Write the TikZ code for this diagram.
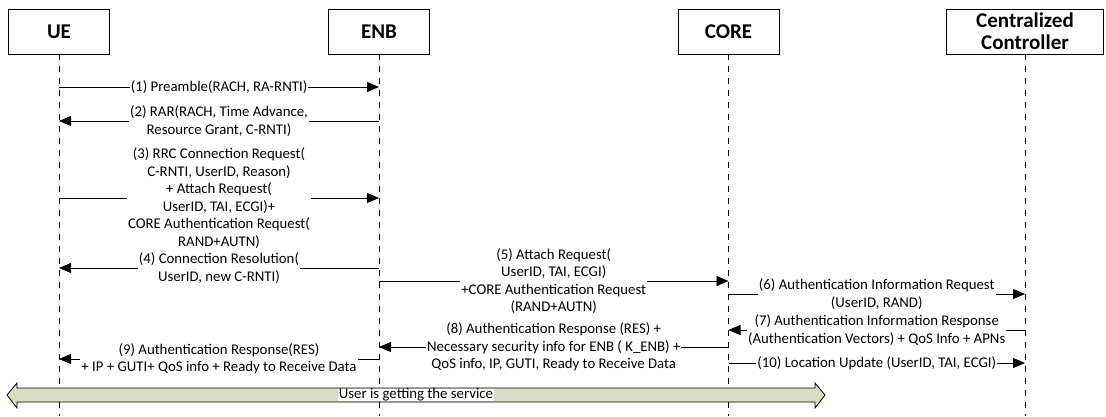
\documentclass[tikz,border=0pt]{standalone}
\usepackage{fontspec}
\setmainfont{Carlito}
\usetikzlibrary{calc,arrows.meta,positioning}

\definecolor{svcgreen}{RGB}{215,222,196}

\tikzset{
  actor/.style={draw, line width=0.8pt, minimum width=101pt, minimum height=45pt,
    inner sep=0pt, align=center, font=\fontsize{21}{22}\selectfont\bfseries},
  lifeline/.style={line width=0.8pt, dash pattern=on 6pt off 6pt},
  msg/.style={line width=0.8pt, -{Triangle[length=12pt,width=10pt]}},
  lbl/.style={fill=white, align=center, inner xsep=1pt, inner ysep=0pt,
    font=\fontsize{14.8}{17.5}\selectfont},
}

\begin{document}
\begin{tikzpicture}[x=1pt,y=-1pt]
  \useasboundingbox (0,0) rectangle (1106,416);

  % actors
  \node[actor] (ue) at (59,31.5) {UE};
  \node[actor] (enb) at (379,31.5) {ENB};
  \node[actor] (core) at (728.5,31.5) {CORE};
  \node[actor, minimum width=157pt] (cc) at (1025,31.5) {Centralized\\Controller};

  % lifelines
  \coordinate (ueB) at (ue |- 0,416);
  \coordinate (enbB) at (enb |- 0,416);
  \coordinate (coreB) at (core |- 0,416);
  \coordinate (ccB) at (cc |- 0,416);
  \draw[lifeline] (ue.south) -- (ueB);
  \draw[lifeline] (enb.south) -- (enbB);
  \draw[lifeline] (core.south) -- (coreB);
  \draw[lifeline] (cc.south) -- (ccB);

  % message end points
  \foreach \n/\y in {1/87,2/121,3/198,4/268,9/359}{
    \coordinate (ue\n) at (ue |- 0,\y);
    \coordinate (enb\n) at (enb |- 0,\y);
  }
  \foreach \n/\y in {5/281,8/347}{
    \coordinate (enb\n) at (enb |- 0,\y);
    \coordinate (core\n) at (core |- 0,\y);
  }
  \foreach \n/\y in {6/294,7/330,10/363}{
    \coordinate (core\n) at (core |- 0,\y);
    \coordinate (cc\n) at (cc |- 0,\y);
  }

  % UE <-> ENB
  \draw[msg] (ue1) -- (enb1) node[lbl, midway] (m1) {(1) Preamble(RACH, RA-RNTI)};
  \draw[msg] (enb2) -- (ue2) node[lbl, midway] (m2) {(2) RAR(RACH, Time Advance,\\Resource Grant, C-RNTI)};
  \draw[msg] (ue3) -- (enb3) node[lbl, midway] (m3) {(3) RRC Connection Request(\\C-RNTI, UserID, Reason)\\+ Attach Request(\\UserID, TAI, ECGI)+\\CORE Authentication Request(\\RAND+AUTN)};
  \draw[msg] (enb4) -- (ue4) node[lbl, midway] (m4) {(4) Connection Resolution(\\UserID, new C-RNTI)};

  % ENB <-> CORE
  \draw[msg] (enb5) -- (core5) node[lbl, midway] (m5) {(5) Attach Request(\\UserID, TAI, ECGI)\\+CORE Authentication Request\\(RAND+AUTN)};

  % CORE <-> controller
  \draw[msg] (core6) -- (cc6) node[lbl, midway] (m6) {(6) Authentication Information Request\\(UserID, RAND)};
  \draw[msg] (cc7) -- (core7) node[lbl, midway] (m7) {(7) Authentication Information Response\\(Authentication Vectors) + QoS Info + APNs};

  \draw[msg] (core8) -- (enb8) node[lbl, midway] (m8) {(8) Authentication Response (RES) +\\Necessary security info for ENB ( K\_ENB) +\\QoS info, IP, GUTI, Ready to Receive Data};
  \draw[msg] (enb9) -- (ue9) node[lbl, midway] (m9) {(9) Authentication Response(RES)\\+ IP + GUTI+ QoS info + Ready to Receive Data};
  \draw[msg] (core10) -- (cc10) node[lbl, midway] (m10) {(10) Location Update (UserID, TAI, ECGI)};

  % service arrow
  \draw[line width=0.8pt, fill=svcgreen] (7,395) -- (17,383) -- (17,388) -- (815,388) -- (815,383)
    -- (825,395) -- (815,408) -- (815,402) -- (17,402) -- (17,408) -- cycle;
  \node[lbl] (svc) at (416,395) {User is getting the service};
\end{tikzpicture}
\end{document}
